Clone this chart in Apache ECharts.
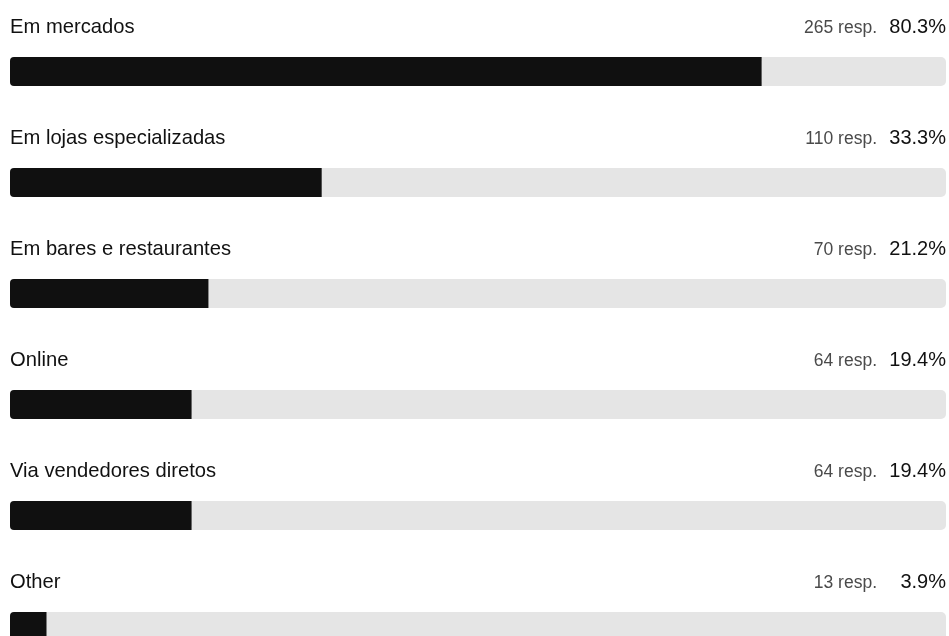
<!DOCTYPE html>
<html>
<head>
<meta charset="utf-8">
<script src="https://cdn.jsdelivr.net/npm/echarts@6/dist/echarts.min.js"></script>
<style>
html,body{margin:0;padding:0;background:#fff;}
#chart{width:949px;height:636px;}
</style>
</head>
<body>
<div id="chart"></div>
<script>
const categories = ['Em mercados', 'Em lojas especializadas', 'Em bares e restaurantes', 'Online', 'Via vendedores diretos', 'Other'];
const responses = [265, 110, 70, 64, 64, 13];
const percents = [80.3, 33.3, 21.2, 19.4, 19.4, 3.9];
const maxPercent = 100;

const FONT = '"Liberation Sans", Arial, Helvetica, sans-serif';
const chart = echarts.init(document.getElementById('chart'), null, {renderer: 'canvas'});

chart.setOption({
  animation: false,
  backgroundColor: '#ffffff',
  grid: {left: 10, right: 3, top: 16, height: 666, outerBoundsMode: 'none'},
  xAxis: {type: 'value', min: 0, max: maxPercent, show: false},
  yAxis: {type: 'category', data: categories, inverse: true, show: false},
  series: [
    {
      type: 'bar',
      name: 'track',
      data: categories.map(() => maxPercent),
      barWidth: 29,
      silent: true,
      itemStyle: {color: '#e5e5e5', borderRadius: 5},
      label: {
        show: true,
        position: ['100%', -29.5],
        align: 'right',
        verticalAlign: 'middle',
        formatter: p => '{a|' + responses[p.dataIndex] + ' resp.}{b|' + percents[p.dataIndex].toFixed(1) + '%}',
        rich: {
          a: {fontFamily: FONT, fontSize: 17.5, color: '#4a4a4a', lineHeight: 24, padding: [1, 0, 0, 0]},
          b: {fontFamily: FONT, fontSize: 20, color: '#111111', width: 69, align: 'right', lineHeight: 24}
        }
      }
    },
    {
      type: 'bar',
      name: 'fill',
      data: percents,
      barWidth: 29,
      barGap: '-100%',
      itemStyle: {color: '#101010', borderRadius: [4, 0, 0, 4]},
      label: {
        show: true,
        position: [0, -29.5],
        align: 'left',
        verticalAlign: 'middle',
        fontFamily: FONT,
        fontSize: 20.2,
        color: '#111111',
        formatter: p => categories[p.dataIndex]
      }
    }
  ]
});
</script>
</body>
</html>
